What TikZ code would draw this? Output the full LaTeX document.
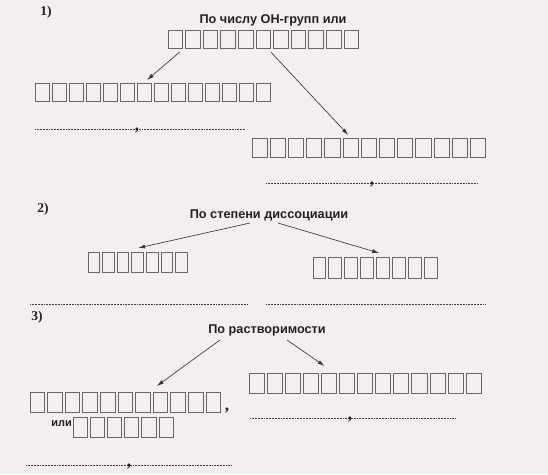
\documentclass[tikz,border=0pt]{standalone}
\usepackage{fontspec}
\setmainfont{Liberation Serif}
\setsansfont{Liberation Sans}
\usepackage{tikz}
\usetikzlibrary{arrows.meta}
\definecolor{paper}{RGB}{245,238,241}
\definecolor{ink}{RGB}{35,32,36}
\definecolor{cellgray}{RGB}{105,100,106}
\tikzset{every picture/.style={x=1pt,y=-1pt},
    heading/.style={font=\sffamily\bfseries\fontsize{12.7}{14}\selectfont,text=ink,inner sep=0pt,anchor=base},
    numlabel/.style={font=\rmfamily\bfseries\fontsize{13.5}{15}\selectfont,text=ink,inner sep=0pt},
    cellrow/.style={draw=none,inner sep=0pt,outer sep=0pt,anchor=north west},
    cell/.style={draw=cellgray,line width=1pt},
    dotline/.style={draw=ink!85,line width=0.75pt,dash pattern=on 0.55pt off 1pt},
    comma/.style={font=\rmfamily\bfseries\fontsize{17}{18}\selectfont,text=ink,inner sep=0pt,anchor=base},
    arr/.style={draw=ink!90,line width=0.65pt,-{Latex[length=7pt,width=4pt]}}}
\newcommand{\cells}[6]{%
    \node[cellrow,minimum width={#4*#5pt},minimum height=#6pt] (#1) at (#2,#3) {};
    \foreach \k in {1,...,#4}
        \draw[cell] ({#2+(\k-1)*#5},#3) rectangle ++({#5-3},#6);}
\newcommand{\answerline}[4]{%
    \coordinate (#1a) at (#2,#4);
    \coordinate (#1b) at (#3,#4);
    \draw[dotline] (#1a) -- (#1b);}
\begin{document}
\begin{tikzpicture}
\fill[paper] (0,0) rectangle (548,474);
\node[numlabel] (n1) at (46,12) {1)};
\node[heading] (t1) at (273,23.5) {По числу OH-групп или};
\cells{r1}{168}{30}{11}{17.6}{18}
\cells{r2}{35}{83}{14}{17}{18}
\cells{r3}{252}{138}{13}{18.2}{19}
\draw[arr] ([xshift=-85pt,yshift=-4pt]r1.south) -- ([xshift=-7pt,yshift=3pt]r2.north);
\draw[arr] ([xshift=6pt,yshift=-4pt]r1.south) -- ([xshift=-22pt,yshift=3pt]r3.north);
\answerline{d1}{35}{245}{129}
\node[comma] (c1) at (137,130.5) {,};
\answerline{d2}{266}{478}{183}
\node[comma] (c2) at (372,184.5) {,};
\node[numlabel] (n2) at (43,209) {2)};
\node[heading] (t2) at (269,218) {По степени диссоциации};
\cells{r4}{88}{252}{7}{14.6}{20}
\cells{r5}{313}{257}{8}{15.9}{21}
\draw[arr] ([xshift=-19pt,yshift=-5pt]t2.base) -- ([xshift=-1pt,yshift=4pt]r4.north);
\draw[arr] ([xshift=9pt,yshift=-5pt]t2.base) -- ([xshift=2.5pt,yshift=4pt]r5.north);
\answerline{d3}{30}{248}{304}
\answerline{d4}{266}{486}{304}
\node[numlabel] (n3) at (37,317) {3)};
\node[heading] (t3) at (267,333) {По растворимости};
\cells{r6}{249}{373}{13}{18.1}{20}
\cells{r7}{30}{392}{11}{17.6}{20}
\draw[arr] ([xshift=-47pt,yshift=-7pt]t3.base) -- ([xshift=30pt,yshift=6pt]r7.north);
\draw[arr] ([xshift=20pt,yshift=-7pt]t3.base) -- ([xshift=-42pt,yshift=7pt]r6.north);
\node[comma] (c3) at (227,410) {,};
\answerline{d5}{250}{455}{418}
\node[comma] (c4) at (350,419.5) {,};
\cells{r8}{73}{417}{6}{17.2}{20}
\node[heading,font=\sffamily\bfseries\fontsize{11}{12}\selectfont,anchor=east] (or) at ([xshift=-1pt,yshift=3pt]r8.west) {или};
\answerline{d6}{26}{232}{465}
\node[comma] (c5) at (129,466.5) {,};
\end{tikzpicture}
\end{document}
